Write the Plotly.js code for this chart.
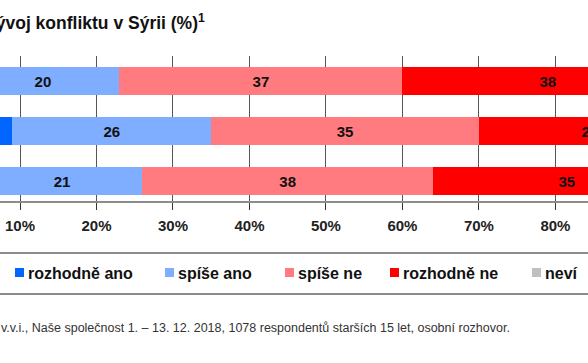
<!DOCTYPE html>
<html>
<head>
<meta charset="utf-8">
<script src="https://cdn.plot.ly/plotly-3.0.1.min.js"></script>
<style>html,body{margin:0;padding:0;background:#fff;}#chart{width:588px;height:363px;}</style>
</head>
<body>
<div id="chart"></div>
<script>
// ---- data ----
const rows = ['položka 1', 'položka 2', 'položka 3'];
const seriesNames = ['rozhodně ano', 'spíše ano', 'spíše ne', 'rozhodně ne', 'neví'];
const rozhodneAno = [3, 9, 5];
const spiseAno = [20, 26, 21];
const spiseNe = [37, 35, 38];
const rozhodneNe = [38, 29, 35];
const nevi = [2, 1, 1];
const tickValues = [10, 20, 30, 40, 50, 60, 70, 80];
const tickLabels = ['10%', '20%', '30%', '40%', '50%', '60%', '70%', '80%'];
const titleText = 'vývoj konfliktu v Sýrii (%)<sup>1</sup>';
const footnoteText = 'v.v.i., Naše společnost 1. – 13. 12. 2018, 1078 respondentů starších 15 let, osobní rozhovor.';

// ---- styles ----
const colors = ['#0066FF', '#7FADFF', '#FF7B7F', '#FF0000', '#C0C0C0'];
// value labels are visible in the reference only for these series (others lie outside the crop)
const showLabels = [false, true, true, true, false];
const FONT = 'Arial, "Liberation Sans", sans-serif';
const W = 588, H = 363;
const plotTop = 56, plotBottom = 201;
const ph = plotBottom - plotTop;
const px2x = p => p / W;
const px2y = p => (plotBottom - p) / ph;

const seriesValues = [rozhodneAno, spiseAno, spiseNe, rozhodneNe, nevi];
const traces = seriesValues.map((vals, i) => ({
  type: 'bar',
  orientation: 'h',
  name: seriesNames[i],
  y: rows,
  x: vals,
  text: showLabels[i] ? vals.map(String) : undefined,
  textposition: showLabels[i] ? 'inside' : 'none',
  insidetextanchor: 'middle',
  textangle: 0,
  textfont: {family: FONT, size: 15, color: '#111', weight: 'bold'},
  marker: {color: colors[i], line: {width: 0}},
  hoverinfo: 'none',
  showlegend: false
}));

// manual legend
const legendSquareX = [15, 165, 285, 390, 532];
const legendY = 273;
const shapes = [];
const annotations = [];
seriesNames.forEach((n, i) => {
  shapes.push({type: 'rect', xref: 'paper', yref: 'paper',
    x0: px2x(legendSquareX[i]), x1: px2x(legendSquareX[i] + 9),
    y0: px2y(legendY - 5), y1: px2y(legendY + 4),
    fillcolor: colors[i], line: {width: 0}});
  annotations.push({xref: 'paper', yref: 'paper', x: px2x(legendSquareX[i] + 11), y: px2y(legendY),
    xanchor: 'left', yanchor: 'middle', showarrow: false, text: n,
    font: {family: FONT, size: 16, color: '#111', weight: 'bold'}});
});
// separator lines
[253, 294].forEach(p => shapes.push({type: 'line', xref: 'paper', yref: 'paper',
  x0: -0.05, x1: 1.05, y0: px2y(p), y1: px2y(p), line: {color: '#8c8c8c', width: 2}}));

annotations.push({xref: 'paper', yref: 'paper', x: px2x(-16), y: px2y(22),
  xanchor: 'left', yanchor: 'middle', showarrow: false, text: titleText,
  font: {family: FONT, size: 17.5, color: '#111', weight: 'bold'}});
annotations.push({xref: 'paper', yref: 'paper', x: px2x(-1), y: px2y(328),
  xanchor: 'left', yanchor: 'middle', showarrow: false, text: footnoteText,
  font: {family: FONT, size: 12.5, color: '#333'}});

// axis range: 10% at px 20, 80% at px 555.4
const pxPerUnit = (555.4 - 20) / 70;
const x0 = 10 - 20 / pxPerUnit;
const x1 = x0 + W / pxPerUnit;

const layout = {
  width: W, height: H,
  margin: {l: 0, r: 0, t: plotTop, b: H - plotBottom, pad: 0},
  paper_bgcolor: '#fff', plot_bgcolor: '#fff',
  barmode: 'stack',
  bargap: 0.45,
  showlegend: false,
  xaxis: {
    range: [x0, x1], tickmode: 'array', tickvals: tickValues, ticktext: tickLabels,
    showgrid: true, gridcolor: '#555', gridwidth: 1, zeroline: false,
    showline: true, linecolor: '#8c8c8c', linewidth: 2,
    ticks: 'outside', ticklen: 7, tickcolor: '#333', tickwidth: 1,
    ticklabelstandoff: 3,
    tickfont: {family: FONT, size: 15, color: '#222', weight: 'bold'},
    fixedrange: true
  },
  yaxis: {
    type: 'category', range: [2.4, -0.5], showticklabels: false,
    showgrid: false, zeroline: false, showline: false, ticks: '', fixedrange: true
  },
  shapes: shapes,
  annotations: annotations,
  font: {family: FONT}
};

Plotly.newPlot('chart', traces, layout, {staticPlot: true, displayModeBar: false});
</script>
</body>
</html>
